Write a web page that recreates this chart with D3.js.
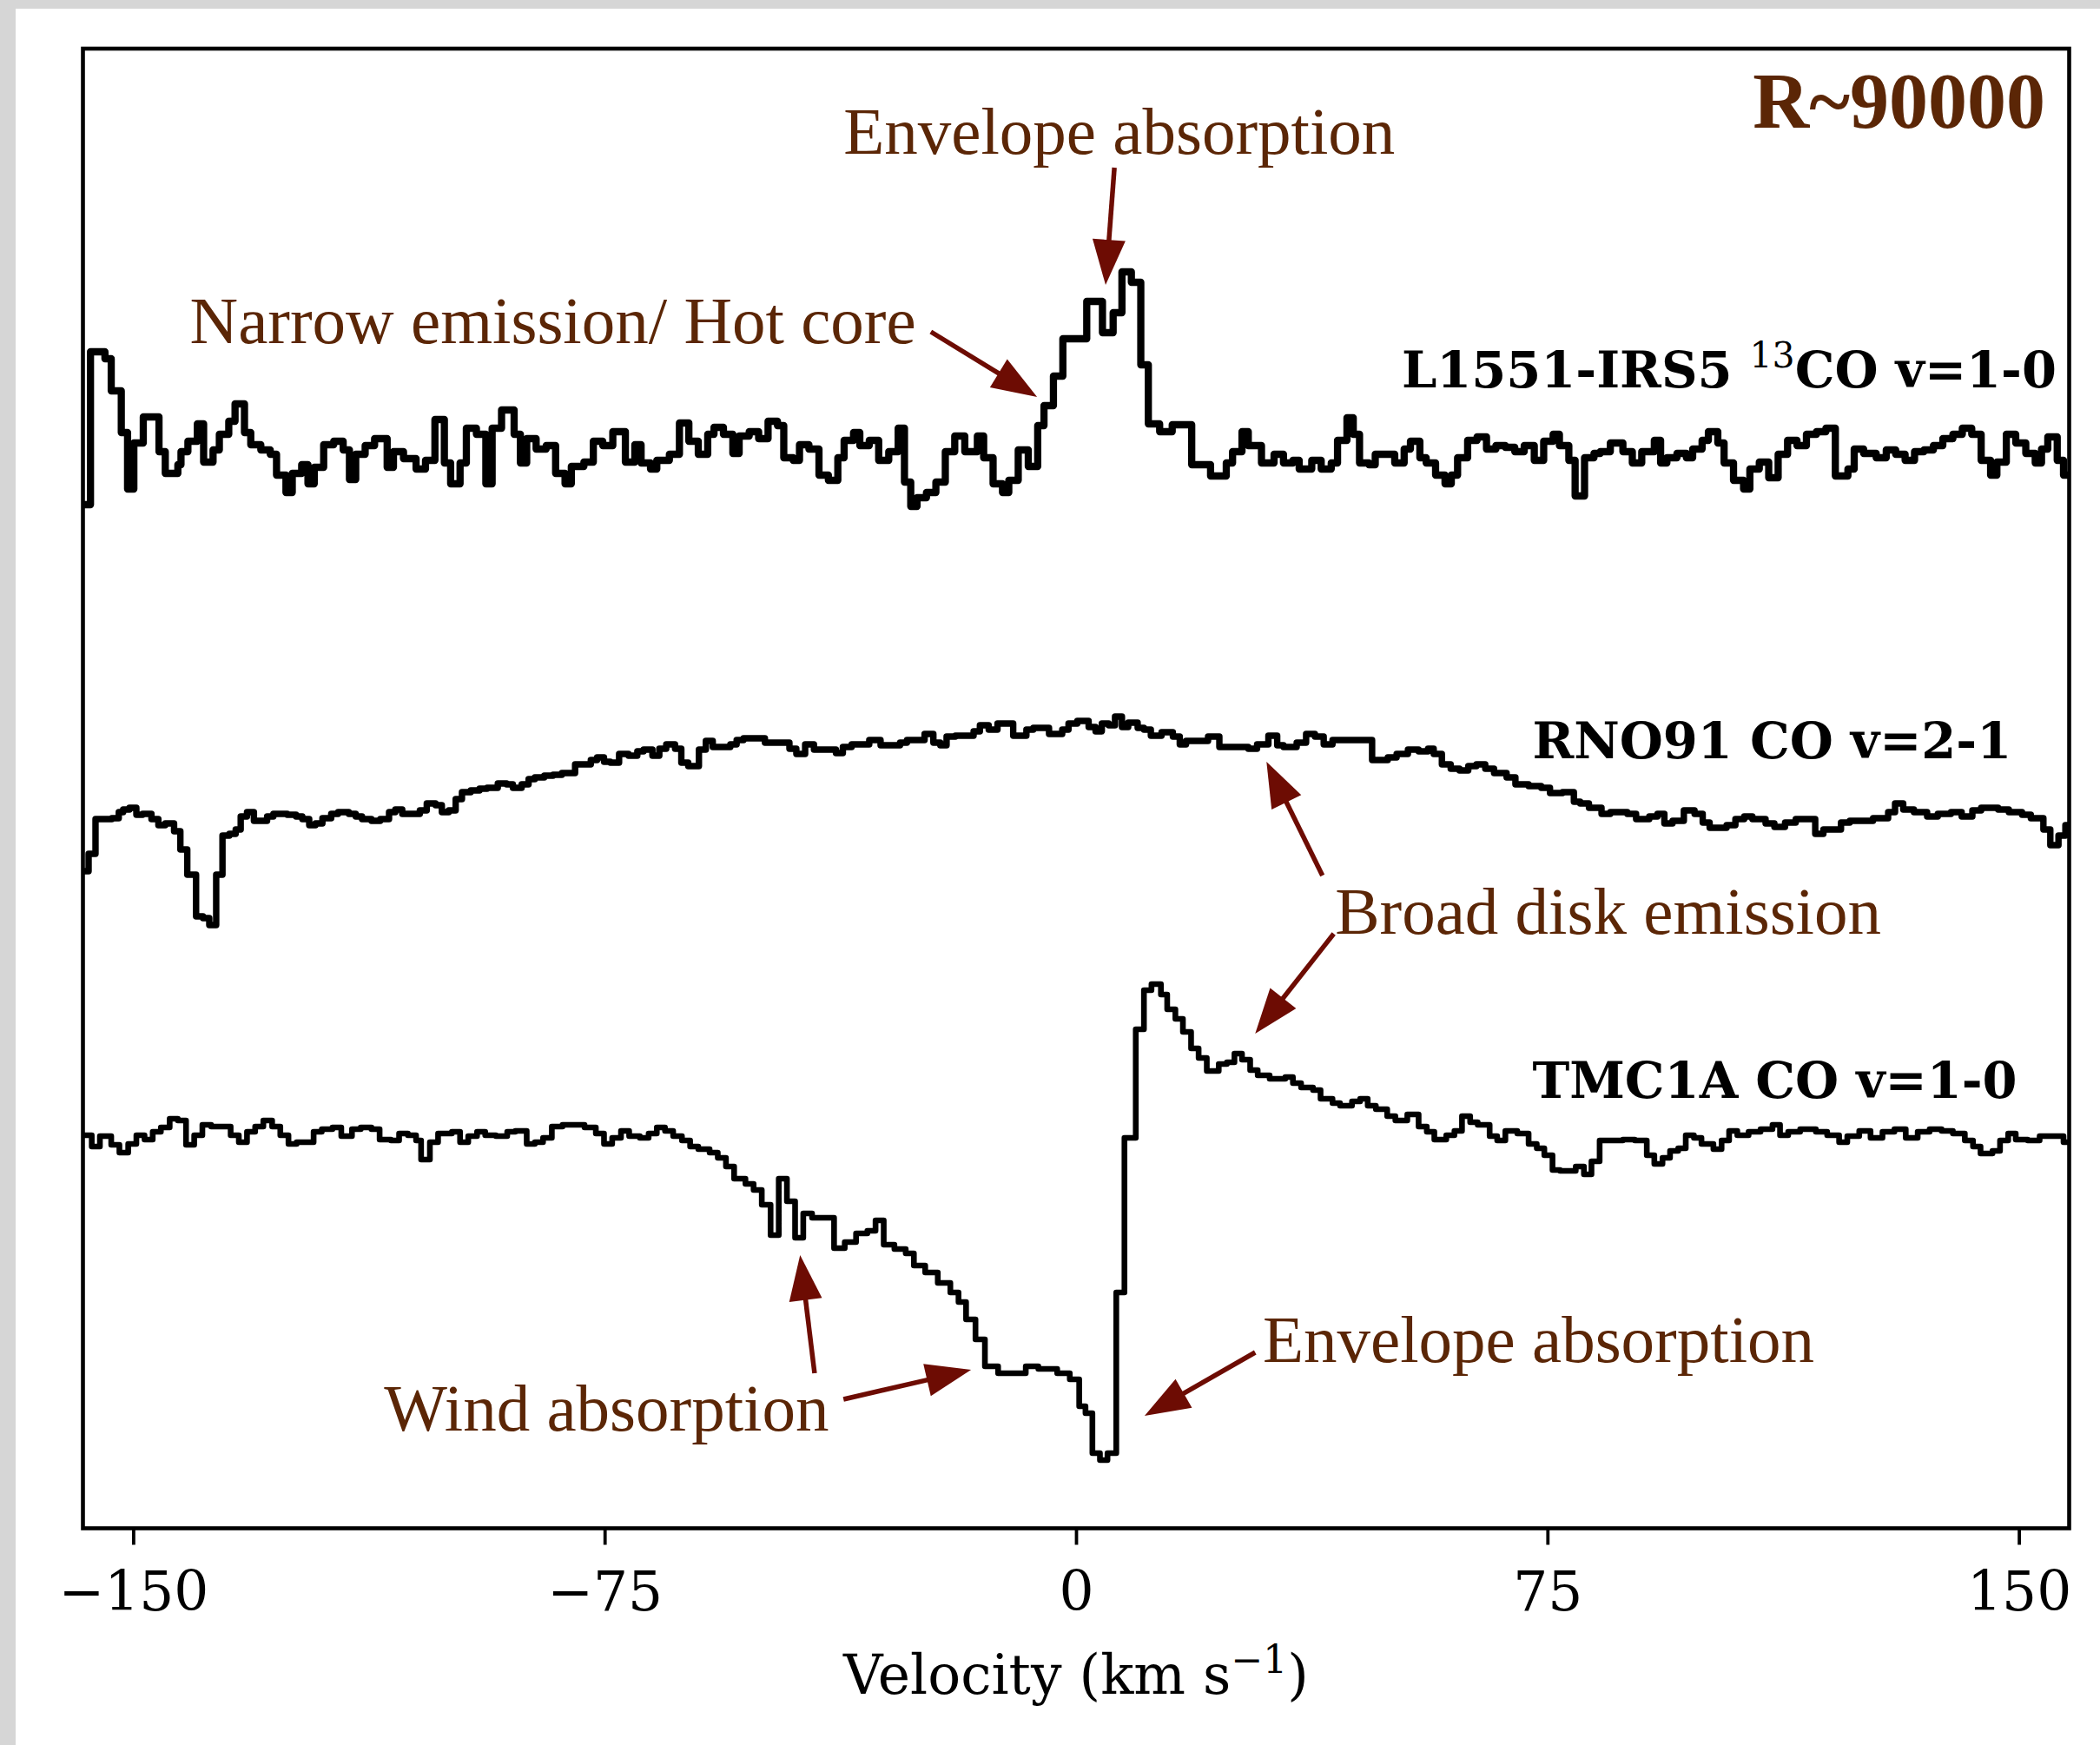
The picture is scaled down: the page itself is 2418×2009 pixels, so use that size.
<!DOCTYPE html>
<html lang="en">
<head>
  <meta charset="UTF-8">
  <title>CO line profiles</title>
  <script src="https://d3js.org/d3.v7.min.js"></script>
  <style>
    body { margin: 0; padding: 0; background: #d6d6d6; }
    svg { display: block; }
  </style>
</head>
<body>
<div id="chart"></div>
<script>
  // Velocity (km/s) at the start of each step, and normalised flux
  const l1551Vel = [-158.0,-156.8,-154.5,-153.5,-151.9,-150.9,-149.9,-148.4,-145.9,-144.9,-142.9,-142.4,-141.3,-139.8,-138.8,-137.3,-136.3,-134.8,-133.8,-132.3,-131.3,-129.7,-128.2,-127.2,-125.7,-124.7,-123.2,-122.2,-121.2,-119.7,-118.1,-116.6,-115.6,-114.6,-113.1,-111.6,-109.6,-108.6,-107.0,-105.0,-103.5,-102.0,-100.5,-99.5,-98.0,-97.0,-95.4,-93.9,-92.9,-91.4,-89.4,-88.4,-87.4,-85.9,-84.3,-82.8,-81.3,-80.3,-78.3,-76.8,-75.3,-73.7,-71.7,-70.2,-69.2,-67.7,-66.7,-64.7,-63.1,-61.6,-60.1,-58.6,-57.6,-56.1,-54.6,-53.6,-52.0,-50.5,-49.0,-47.5,-46.5,-45.0,-44.0,-42.5,-40.9,-39.4,-37.9,-36.9,-35.4,-34.4,-32.9,-31.4,-29.8,-28.3,-27.3,-26.3,-25.3,-23.8,-22.3,-20.8,-19.3,-17.7,-15.7,-14.7,-13.2,-11.7,-10.7,-9.2,-7.6,-6.1,-5.1,-3.6,-2.1,1.7,4.2,5.9,7.3,8.8,10.3,11.5,13.3,15.3,18.4,21.4,23.9,24.9,26.4,27.4,29.5,31.5,33.0,34.5,35.5,37.5,39.0,40.6,41.6,43.1,44.1,45.1,46.6,47.6,50.7,52.2,53.2,54.7,55.7,57.2,58.7,59.7,60.7,62.3,63.8,65.3,66.8,68.3,69.8,71.3,72.9,74.4,75.9,76.9,78.4,79.4,80.9,82.4,83.4,85.0,87.0,88.5,90.0,92.0,93.0,94.0,95.6,97.1,98.1,99.6,100.6,102.1,103.1,104.6,106.2,107.2,108.7,110.2,111.7,113.2,114.7,116.2,117.8,119.3,120.8,122.8,123.8,125.3,127.3,128.9,130.4,131.9,133.4,134.9,136.4,137.9,139.5,141.0,142.5,144.0,145.5,146.5,148.0,149.5,151.1,152.6,153.6,154.6,156.1,157.1];
  const l1551Flux = [0.943,1.119,1.111,1.074,1.026,0.961,1.014,1.044,1.004,0.979,0.989,1.004,1.016,1.036,0.992,1.006,1.024,1.039,1.059,1.026,1.012,1.006,1.001,0.977,0.957,0.979,0.989,0.967,0.986,1.012,1.016,1.006,0.972,1.001,1.011,1.019,0.986,1.004,0.996,0.984,0.994,1.041,0.991,0.967,0.991,1.031,1.024,0.967,1.031,1.052,1.024,0.991,1.019,1.007,1.011,0.979,0.967,0.987,0.992,1.016,1.011,1.027,0.992,1.012,0.991,0.984,0.994,1.001,1.037,1.016,1.001,1.024,1.032,1.024,1.002,1.022,1.027,1.019,1.039,1.034,0.997,0.994,1.012,1.007,0.977,0.971,0.997,1.017,1.026,1.011,1.017,0.994,1.004,1.031,0.969,0.941,0.951,0.957,0.969,1.004,1.022,1.004,1.022,0.997,0.967,0.957,0.971,1.006,0.987,1.034,1.057,1.091,1.134,1.177,1.141,1.164,1.211,1.199,1.104,1.036,1.027,1.035,0.989,0.976,0.991,1.004,1.027,1.011,0.991,1.001,0.991,0.994,0.984,0.994,0.984,0.991,1.017,1.043,1.024,0.991,0.989,1.001,0.991,1.007,1.016,0.997,0.991,0.977,0.967,0.977,0.997,1.017,1.021,1.007,1.011,1.009,1.004,1.011,0.994,1.016,1.024,1.011,0.994,0.953,0.997,1.002,1.004,1.014,1.004,0.991,1.004,1.017,0.991,0.997,1.002,0.997,1.007,1.017,1.027,1.014,0.991,0.971,0.961,0.984,0.992,0.974,1.001,1.017,1.011,1.024,1.027,1.031,0.976,0.984,1.007,1.002,0.997,1.006,1.001,0.994,1.004,1.006,1.011,1.019,1.024,1.031,1.024,0.994,0.977,0.992,1.024,1.014,1.002,0.991,1.007,1.021,0.994,0.977];

  const rno91Vel = [-158.0,-157.1,-156.0,-153.4,-152.3,-151.6,-150.6,-149.5,-148.5,-147.1,-146.0,-144.9,-143.5,-142.5,-141.4,-140.0,-138.9,-137.9,-136.8,-135.8,-134.7,-133.7,-132.9,-131.9,-130.8,-128.7,-127.7,-125.5,-124.1,-123.1,-122.0,-121.0,-119.9,-118.5,-117.4,-115.7,-114.6,-113.6,-112.1,-110.7,-109.3,-108.3,-107.2,-104.4,-103.3,-101.9,-100.9,-99.8,-98.7,-97.7,-96.3,-94.9,-93.7,-92.0,-90.6,-89.6,-88.2,-87.1,-86.1,-84.6,-83.2,-81.8,-79.7,-77.2,-76.2,-75.1,-74.1,-72.7,-71.2,-69.8,-68.8,-67.4,-66.3,-65.2,-63.8,-62.8,-61.7,-60.0,-58.9,-57.8,-55.0,-54.0,-52.9,-51.1,-49.5,-45.6,-44.5,-43.1,-41.7,-38.2,-37.1,-35.7,-32.9,-31.1,-28.0,-26.9,-24.1,-22.7,-21.6,-20.6,-19.2,-16.3,-15.3,-13.9,-12.5,-10.0,-7.9,-6.8,-4.3,-2.2,-1.2,0.2,2.0,3.1,4.1,5.2,6.2,7.3,8.3,9.8,10.8,11.9,13.6,15.4,16.5,17.5,21.0,22.8,27.4,28.8,30.6,32.0,33.0,35.1,36.6,38.0,39.4,40.8,47.1,49.6,51.0,52.8,54.5,56.0,56.9,58.2,59.6,61.0,62.4,63.7,65.1,66.5,68.5,69.9,72.0,74.0,75.4,77.4,79.2,80.2,81.6,83.6,85.0,87.7,89.1,91.2,92.5,93.6,94.9,96.7,98.4,99.7,100.8,103.5,104.9,106.3,107.6,109.7,111.1,112.8,114.5,117.6,118.9,121.7,123.1,126.8,129.2,130.3,131.6,133.3,135.4,137.1,139.2,140.9,142.6,144.0,146.7,148.4,150.5,151.9,153.9,155.0,156.3,157.4];
  const rno91Flux = [0.933,0.953,0.993,0.994,1.001,1.004,1.006,0.998,0.999,0.993,0.986,0.988,0.979,0.958,0.929,0.881,0.879,0.871,0.929,0.974,0.976,0.981,0.996,1.001,0.991,0.996,0.999,0.998,0.996,0.993,0.986,0.988,0.994,0.999,1.001,0.999,0.996,0.993,0.991,0.993,1.001,1.004,0.999,1.003,1.011,1.009,1.001,1.003,1.016,1.024,1.026,1.028,1.029,1.034,1.033,1.029,1.033,1.039,1.041,1.043,1.044,1.046,1.056,1.061,1.064,1.059,1.058,1.068,1.066,1.071,1.073,1.066,1.074,1.079,1.074,1.058,1.054,1.073,1.083,1.076,1.079,1.084,1.086,1.086,1.081,1.074,1.068,1.079,1.073,1.069,1.076,1.079,1.084,1.078,1.081,1.084,1.091,1.081,1.078,1.088,1.089,1.094,1.101,1.096,1.103,1.089,1.096,1.098,1.091,1.096,1.103,1.106,1.099,1.094,1.103,1.101,1.111,1.099,1.104,1.098,1.096,1.089,1.093,1.088,1.079,1.083,1.088,1.076,1.074,1.079,1.089,1.078,1.076,1.081,1.091,1.088,1.079,1.084,1.061,1.064,1.068,1.073,1.071,1.074,1.068,1.056,1.051,1.049,1.054,1.056,1.051,1.046,1.041,1.033,1.031,1.029,1.023,1.024,1.013,1.011,1.006,0.999,1.001,0.999,0.993,0.996,0.999,0.988,0.991,1.003,0.999,0.989,0.983,0.986,0.993,0.996,0.993,0.988,0.984,0.989,0.993,0.976,0.981,0.989,0.991,0.994,1.001,1.011,1.004,1.001,0.996,0.999,1.001,0.996,1.003,1.006,1.004,1.001,0.998,0.994,0.981,0.963,0.974,0.986];

  const tmc1aVel = [-158.0,-156.6,-155.3,-153.5,-152.2,-150.8,-149.5,-148.2,-146.9,-145.6,-144.2,-142.9,-141.6,-140.3,-139.0,-137.6,-134.5,-133.2,-131.9,-130.6,-129.3,-127.9,-126.6,-125.3,-124.0,-121.3,-120.0,-118.3,-116.9,-115.2,-113.8,-112.1,-110.8,-109.0,-107.7,-106.3,-105.0,-104.2,-102.8,-101.5,-99.3,-98.0,-96.7,-95.3,-94.0,-92.3,-90.5,-89.2,-87.4,-86.1,-84.8,-83.4,-81.7,-78.2,-76.4,-75.1,-73.8,-72.4,-71.1,-69.4,-68.0,-66.7,-65.4,-64.1,-62.7,-61.4,-60.1,-58.3,-57.0,-55.7,-54.4,-52.6,-51.3,-50.0,-48.6,-47.3,-46.0,-44.7,-43.4,-42.0,-38.5,-36.8,-35.0,-33.2,-31.9,-30.6,-28.9,-27.1,-25.8,-24.0,-22.0,-20.0,-18.7,-17.5,-16.0,-14.5,-12.4,-8.0,-6.0,-3.0,-1.0,0.5,1.5,2.6,3.8,5.0,6.4,7.7,9.5,10.8,12.0,13.5,14.5,15.8,17.0,18.3,19.5,20.8,22.7,24.0,25.2,26.4,27.7,28.9,30.8,33.3,34.5,35.8,37.7,38.9,40.8,42.0,43.9,45.2,46.4,47.7,49.5,50.8,52.7,54.5,55.8,57.0,58.9,60.2,61.4,62.7,63.9,65.8,67.0,68.3,70.2,72.0,73.3,74.5,75.8,77.0,79.5,80.8,82.0,83.3,85.2,87.0,88.9,90.8,92.0,93.3,94.5,95.8,97.0,98.3,99.5,101.4,102.7,103.9,105.2,107.0,108.9,110.8,112.0,113.3,115.2,117.7,119.5,121.4,122.7,124.6,126.4,128.3,130.2,132.0,133.9,135.8,137.7,139.5,141.4,142.7,143.9,145.8,147.0,148.3,149.5,151.4,153.3,155.2,157.1];
  const tmc1aFlux = [1.004,0.991,1.003,0.993,0.984,0.994,1.004,0.999,1.008,1.013,1.023,1.021,0.993,1.004,1.016,1.014,1.004,0.996,1.008,1.014,1.021,1.014,1.004,0.994,0.996,1.008,1.011,1.013,1.003,1.011,1.013,1.011,0.999,0.998,1.006,1.004,0.998,0.976,0.996,1.006,1.008,0.996,1.003,1.008,1.004,1.003,1.008,1.009,0.994,0.996,1.001,1.014,1.016,1.013,1.006,0.994,1.001,1.009,1.003,1.001,1.006,1.013,1.009,1.003,0.998,0.991,0.988,0.984,0.978,0.968,0.954,0.948,0.941,0.924,0.889,0.954,0.928,0.886,0.914,0.909,0.874,0.881,0.891,0.894,0.906,0.878,0.873,0.868,0.854,0.846,0.834,0.823,0.812,0.792,0.769,0.738,0.730,0.738,0.735,0.730,0.723,0.692,0.684,0.638,0.630,0.638,0.823,1.001,1.126,1.171,1.178,1.166,1.149,1.138,1.123,1.104,1.093,1.078,1.086,1.088,1.098,1.091,1.079,1.073,1.069,1.071,1.064,1.059,1.056,1.046,1.041,1.038,1.043,1.046,1.038,1.034,1.026,1.021,1.028,1.014,1.008,0.999,1.004,1.009,1.026,1.019,1.016,1.003,0.998,1.009,1.006,0.994,0.989,0.981,0.964,0.963,0.968,0.959,0.974,0.998,0.998,0.999,0.998,0.981,0.971,0.978,0.986,0.989,1.004,1.001,0.994,0.988,0.998,1.009,1.004,1.008,1.011,1.016,1.004,1.008,1.011,1.008,1.004,0.996,1.003,1.009,1.001,1.008,1.011,1.001,1.008,1.011,1.009,1.006,0.998,0.991,0.983,0.986,0.998,1.006,0.999,0.998,1.003,1.003,0.996];

  const seriesNames = ["L1551-IRS5", "RNO91", "TMC1A"];
  const seriesOffsets = [0.787, 0.375, 0];
  const xTicks = [-150, -75, 0, 75, 150];

  const width = 2418, height = 2009;
  const plot = {left: 95.5, right: 2382.5, top: 56, bottom: 1759.5};
  const textColor = "#5b2606";
  const arrowColor = "#6d0c03";

  const x = d3.scaleLinear().domain([-158, 158]).range([plot.left, plot.right]);
  const y = d3.scaleLinear().domain([0.5515, 2.255]).range([plot.bottom, plot.top]);

  const svg = d3.select("#chart").append("svg")
    .attr("width", width)
    .attr("height", height);

  svg.append("rect").attr("width", width).attr("height", height).attr("fill", "#d6d6d6");
  svg.append("rect").attr("x", 18).attr("y", 10)
    .attr("width", width - 18).attr("height", height - 10).attr("fill", "#fff");

  svg.append("clipPath").attr("id", "clip")
    .append("rect")
    .attr("x", plot.left).attr("y", plot.top)
    .attr("width", plot.right - plot.left).attr("height", plot.bottom - plot.top);

  // step spectra
  const spectra = [
    {vel: l1551Vel, flux: l1551Flux, lw: 8.3},
    {vel: rno91Vel, flux: rno91Flux, lw: 7.4},
    {vel: tmc1aVel, flux: tmc1aFlux, lw: 6.6}
  ];

  spectra.forEach((s, i) => {
    const pts = d3.zip(s.vel, s.flux);
    pts.push([158, s.flux[s.flux.length - 1]]);
    const line = d3.line()
      .x(d => x(d[0]))
      .y(d => y(d[1] + seriesOffsets[i]))
      .curve(d3.curveStepAfter);
    svg.append("path")
      .datum(pts)
      .attr("clip-path", "url(#clip)")
      .attr("fill", "none")
      .attr("stroke", "#000")
      .attr("stroke-width", s.lw)
      .attr("stroke-linejoin", "round")
      .attr("d", line);
  });

  // frame
  svg.append("rect")
    .attr("x", plot.left).attr("y", plot.top)
    .attr("width", plot.right - plot.left).attr("height", plot.bottom - plot.top)
    .attr("fill", "none").attr("stroke", "#000").attr("stroke-width", 4.6);

  // x axis
  const xAxis = svg.append("g")
    .attr("transform", `translate(0,${plot.bottom})`)
    .call(d3.axisBottom(x).tickValues(xTicks).tickSize(19)
      .tickFormat(d => d < 0 ? "\u2212" + Math.abs(d) : String(d)));
  xAxis.select(".domain").remove();
  xAxis.selectAll(".tick line").attr("stroke", "#000").attr("stroke-width", 3.8);
  xAxis.selectAll(".tick text")
    .attr("y", 94.5).attr("dy", null)
    .attr("fill", "#000")
    .style("font-family", "'DejaVu Serif', serif")
    .style("font-size", "63px");

  const xLabel = svg.append("text")
    .attr("x", (plot.left + plot.right) / 2)
    .attr("y", 1950)
    .attr("text-anchor", "middle")
    .style("font-family", "'DejaVu Serif', serif")
    .style("font-size", "63px")
    .attr("fill", "#000");
  xLabel.append("tspan").text("Velocity (km s");
  xLabel.append("tspan").attr("dy", -24).style("font-size", "44px").text("\u22121");
  xLabel.append("tspan").attr("dy", 24).text(")");

  // series labels
  const labelFont = {family: "'DejaVu Serif', serif", size: 57.5};
  const l1 = svg.append("text")
    .attr("x", x(51.8)).attr("y", y(1.865))
    .style("font-family", labelFont.family).style("font-size", labelFont.size + "px")
    .style("font-weight", "bold");
  l1.append("tspan").text(seriesNames[0] + " ");
  l1.append("tspan").attr("dy", -23).style("font-size", "41px").style("font-weight", "normal").text("13");
  l1.append("tspan").attr("dy", 23).text("CO v=1-0");

  svg.append("text")
    .attr("x", x(72.6)).attr("y", y(1.438))
    .style("font-family", labelFont.family).style("font-size", labelFont.size + "px")
    .style("font-weight", "bold")
    .text(seriesNames[1] + " CO v=2-1");

  svg.append("text")
    .attr("x", x(72.6)).attr("y", y(1.047))
    .style("font-family", labelFont.family).style("font-size", labelFont.size + "px")
    .style("font-weight", "bold")
    .text(seriesNames[2] + " CO v=1-0");

  // resolution tag
  svg.append("text")
    .attr("x", 2355).attr("y", 146.5)
    .attr("text-anchor", "end")
    .attr("fill", textColor)
    .style("font-family", "'Liberation Serif', 'Times New Roman', serif")
    .style("font-size", "90px")
    .style("font-weight", "bold")
    .text("R~90000");

  // annotations: text anchor and arrows [from v, from y, to v, to y] in data units
  const notes = [
    {text: "Envelope absorption", v: -37.0, y: 2.134, arrows: [[6.1, 2.118, 4.7, 1.983]]},
    {text: "Narrow emission/ Hot core", v: -141.0, y: 1.916, arrows: [[-23.1, 1.929, -6.2, 1.854]]},
    {text: "Broad disk emission", v: 41.2, y: 1.236, arrows: [[39.2, 1.303, 30.3, 1.434], [41.0, 1.236, 28.5, 1.121]]},
    {text: "Wind absorption", v: -110.1, y: 0.664, arrows: [[-41.6, 0.730, -43.9, 0.866], [-37.0, 0.700, -16.7, 0.734]]},
    {text: "Envelope absorption", v: 29.7, y: 0.743, arrows: [[28.5, 0.754, 10.9, 0.681]]}
  ];

  const noteG = svg.append("g");
  const headLen = 52, headWid = 38, shaftW = 5.5;

  notes.forEach(n => {
    noteG.append("text")
      .attr("x", x(n.v)).attr("y", y(n.y))
      .attr("fill", textColor)
      .style("font-family", "'Liberation Serif', 'Times New Roman', serif")
      .style("font-size", "77px")
      .text(n.text);
    n.arrows.forEach(a => {
      const x0 = x(a[0]), y0 = y(a[1]), x1 = x(a[2]), y1 = y(a[3]);
      const len = Math.hypot(x1 - x0, y1 - y0);
      const ux = (x1 - x0) / len, uy = (y1 - y0) / len;
      const bx = x1 - ux * headLen, by = y1 - uy * headLen;
      noteG.append("line")
        .attr("x1", x0).attr("y1", y0)
        .attr("x2", bx + ux * 4).attr("y2", by + uy * 4)
        .attr("stroke", arrowColor).attr("stroke-width", shaftW);
      noteG.append("path")
        .attr("d", `M${x1},${y1}L${bx - uy * headWid / 2},${by + ux * headWid / 2}L${bx + uy * headWid / 2},${by - ux * headWid / 2}Z`)
        .attr("fill", arrowColor);
    });
  });
</script>
</body>
</html>
